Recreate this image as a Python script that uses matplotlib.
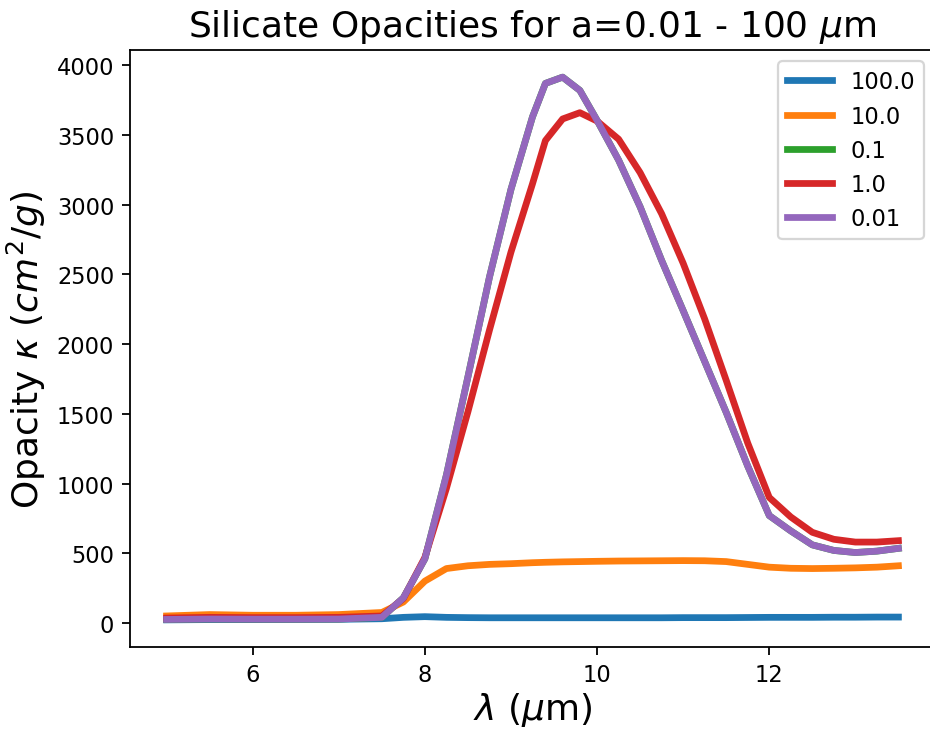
import numpy as np
import matplotlib.pyplot as plt

# wavelength grid (micron)
wavelength = [5.0, 5.5, 6.0, 6.5, 7.0, 7.5, 7.75, 8.0, 8.25, 8.5, 8.75, 9.0, 9.25, 9.4, 9.6, 9.8,
              10.0, 10.25, 10.5, 10.75, 11.0, 11.25, 11.5, 11.75, 12.0, 12.25, 12.5, 12.75,
              13.0, 13.25, 13.5]

# opacities (cm^2/g) read per grain size
kappa_100 = [22, 24, 24, 25, 26, 30, 40, 45, 40, 38, 37, 37, 37, 37, 37, 37,
             37, 37, 37, 37, 38, 38, 38, 39, 40, 40, 40, 41, 41, 42, 42]
kappa_10 = [50, 60, 55, 55, 60, 75, 150, 300, 390, 410, 420, 425, 432, 435, 438, 440,
            442, 444, 445, 446, 447, 446, 440, 420, 400, 392, 390, 392, 395, 400, 410]
kappa_01 = [25, 28, 27, 27, 28, 40, 180, 460, 1060, 1765, 2480, 3110, 3630, 3870, 3915, 3820,
            3605, 3320, 2985, 2600, 2240, 1875, 1510, 1125, 770, 660, 560, 520, 505, 515, 535]
kappa_1 = [35, 40, 38, 38, 40, 50, 175, 470, 965, 1515, 2100, 2660, 3150, 3460, 3615, 3660,
           3600, 3470, 3230, 2935, 2580, 2180, 1740, 1290, 900, 760, 650, 600, 580, 580, 590]
kappa_001 = [25, 28, 27, 27, 28, 40, 180, 460, 1060, 1765, 2480, 3110, 3630, 3870, 3915, 3820,
             3605, 3320, 2985, 2600, 2240, 1875, 1510, 1125, 770, 660, 560, 520, 505, 515, 535]

sizes = ['100.0', '10.0', '0.1', '1.0', '0.01']
series = [kappa_100, kappa_10, kappa_01, kappa_1, kappa_001]

dpi = 162
fig = plt.figure(figsize=(930 / dpi, 730 / dpi), dpi=dpi)
# axes runs past the right edge, like the cropped original
ax = fig.add_axes([130 / 930, 82 / 730, 805 / 930, 597 / 730])

for lab, vals in zip(sizes, series):
    ax.plot(wavelength, vals, lw=3, label=lab)

ax.legend(loc='upper right')
ax.set_title(r'Silicate Opacities for a=0.01 - 100 $\mu$m', fontsize=16)
ax.set_xlabel(r'$\lambda$ ($\mu$m)', fontsize=16, labelpad=2)
ax.set_ylabel(r'Opacity $\kappa$ $(cm^2/g)$', fontsize=16)
ax.set_xticks([6, 8, 10, 12])

fig.savefig('out.png', dpi=dpi)
